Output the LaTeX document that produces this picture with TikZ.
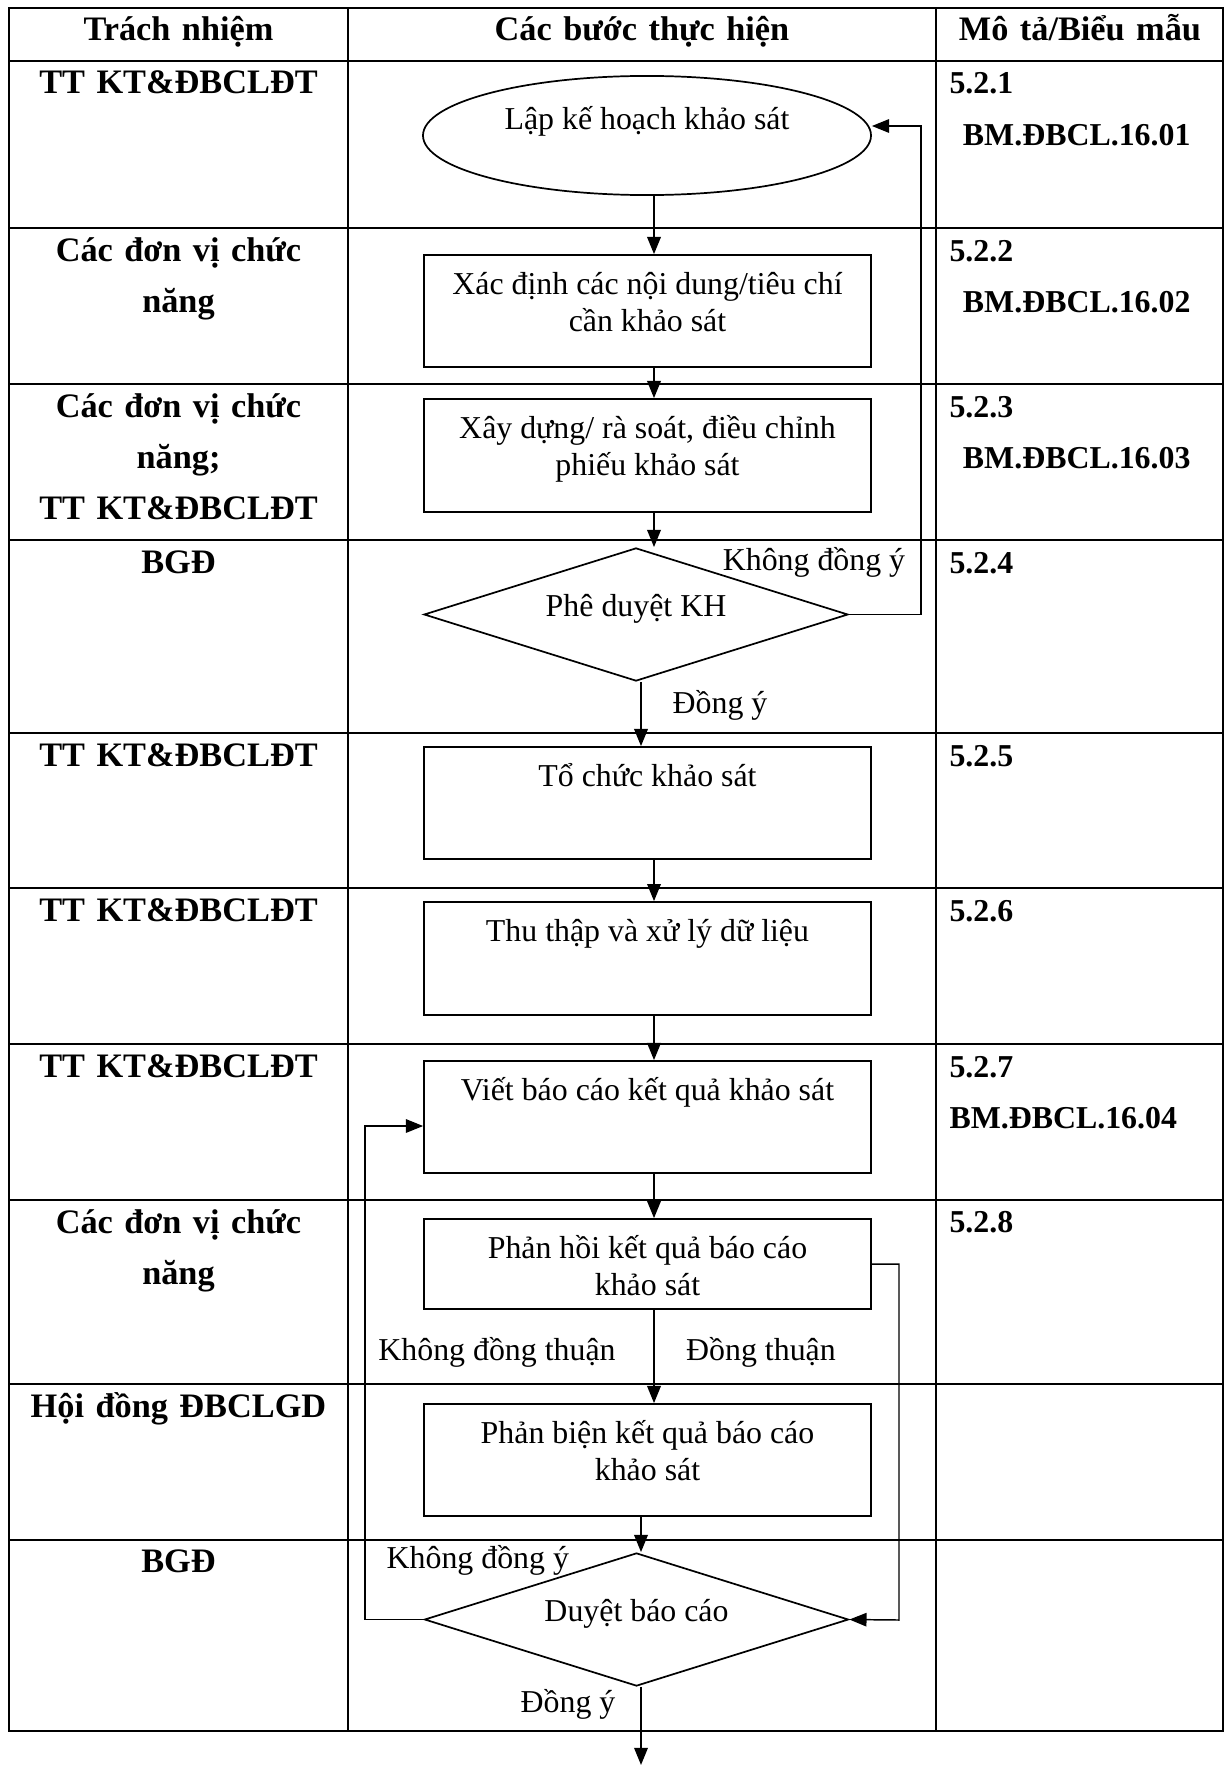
\documentclass[tikz,border=0pt]{standalone}
\usepackage{fontspec}
\setmainfont{Liberation Serif}
\usepackage{tikz}
\usetikzlibrary{positioning}
\usetikzlibrary{shapes.geometric}
\usetikzlibrary{arrows.meta}
\newcommand{\boxtxt}[2]{\parbox[c][#1][t]{182.4pt}{\centering\rule{0pt}{16.3pt}#2}}

\begin{document}
\begin{tikzpicture}[x=0.408pt, y=-0.408pt,
    tbl/.style={line width=1.1pt},
    stepbox/.style={draw, line width=0.7pt, inner sep=0pt, font=\fontsize{13}{15}\selectfont},
    planbox/.style={draw, ellipse, line width=0.7pt, inner sep=0pt, minimum width=182.8pt, minimum height=48.6pt, text height=10pt, text depth=14.5pt, font=\fontsize{13}{15}\selectfont},
    decbox/.style={draw, diamond, aspect=3.2, line width=0.7pt, inner sep=0pt, minimum width=173pt, minimum height=54.3pt, text height=9pt, text depth=7pt, font=\fontsize{13}{15}\selectfont},
    arr/.style={-{Triangle[length=7pt,width=5.5pt]}, line width=0.8pt},
    loopline/.style={-{Triangle[length=7pt,width=5.5pt]}, line width=0.6pt},
    who/.style={anchor=base, align=center, text width=134pt, inner xsep=0pt, font=\bfseries\fontsize{14}{21}\selectfont},
    form/.style={anchor=base west, align=left, text width=110pt, inner xsep=0pt, font=\bfseries\fontsize{13}{21}\selectfont},
    lbl/.style={anchor=base, font=\fontsize{13}{15}\selectfont}]
    \useasboundingbox (0,0) rectangle (1226,1767);

    % Table
    \draw[tbl] (9,8) rectangle (1223,1731);
    \draw[tbl] (348,8) -- (348,1731);
    \draw[tbl] (936,8) -- (936,1731);
    \draw[tbl] (9,61) -- (1223,61);
    \draw[tbl] (9,228) -- (1223,228);
    \draw[tbl] (9,384) -- (1223,384);
    \draw[tbl] (9,540) -- (1223,540);
    \draw[tbl] (9,733) -- (1223,733);
    \draw[tbl] (9,888) -- (1223,888);
    \draw[tbl] (9,1044) -- (1223,1044);
    \draw[tbl] (9,1200) -- (1223,1200);
    \draw[tbl] (9,1384) -- (1223,1384);
    \draw[tbl] (9,1540) -- (1223,1540);

    % Header
    \node[who] (h1) at (178.5,41) {Trách nhiệm};
    \node[who] (h2) at (642,41) {Các bước thực hiện};
    \node[who] (h3) at (1080,41) {Mô tả/Biểu mẫu};

    % Responsibility
    \node[who] (r1) at (178.5,94) {TT KT\&ĐBCLĐT};
    \node[who] (r2) at (178.5,261) {Các đơn vị chức\\năng};
    \node[who] (r3) at (178.5,417) {Các đơn vị chức\\năng;\\TT KT\&ĐBCLĐT};
    \node[who] (r4) at (178.5,573) {BGĐ};
    \node[who] (r5) at (178.5,766) {TT KT\&ĐBCLĐT};
    \node[who] (r6) at (178.5,921) {TT KT\&ĐBCLĐT};
    \node[who] (r7) at (178.5,1077) {TT KT\&ĐBCLĐT};
    \node[who] (r8) at (178.5,1233) {Các đơn vị chức\\năng};
    \node[who] (r9) at (178.5,1417) {Hội đồng ĐBCLGD};
    \node[who] (r10) at (178.5,1572) {BGĐ};

    % Forms
    \node[form] (d1) at (949,94) {5.2.1\\\hspace*{5.5pt}BM.ĐBCL.16.01};
    \node[form] (d2) at (949,261) {5.2.2\\\hspace*{5.5pt}BM.ĐBCL.16.02};
    \node[form] (d3) at (949,417) {5.2.3\\\hspace*{5.5pt}BM.ĐBCL.16.03};
    \node[form] (d4) at (949,573) {5.2.4};
    \node[form] (d5) at (949,766) {5.2.5};
    \node[form] (d6) at (949,921) {5.2.6};
    \node[form] (d7) at (949,1077) {5.2.7\\BM.ĐBCL.16.04};
    \node[form] (d8) at (949,1232) {5.2.8};

    % Steps
    \node[planbox] (plan) at (647,135.5) {Lập kế hoạch khảo sát};
    \node[stepbox] (box2) at (647.5,311) {\boxtxt{45.7pt}{Xác định các nội dung/tiêu chí\\cần khảo sát}};
    \node[stepbox] (box3) at (647.5,455.5) {\boxtxt{46.1pt}{Xây dựng/ rà soát, điều chỉnh\\phiếu khảo sát}};
    \node[decbox] (dec1) at (636,614.5) {Phê duyệt KH};
    \node[stepbox] (box5) at (647.5,803) {\boxtxt{45.7pt}{Tổ chức khảo sát}};
    \node[stepbox] (box6) at (647.5,958.5) {\boxtxt{46.1pt}{Thu thập và xử lý dữ liệu}};
    \node[stepbox] (box7) at (647.5,1117) {\boxtxt{45.7pt}{Viết báo cáo kết quả khảo sát}};
    \node[stepbox] (box8) at (647.5,1264) {\boxtxt{36.7pt}{Phản hồi kết quả báo cáo\\khảo sát}};
    \node[stepbox] (box9) at (647.5,1460) {\boxtxt{45.7pt}{Phản biện kết quả báo cáo\\khảo sát}};
    \node[decbox] (dec2) at (636.5,1619.5) {Duyệt báo cáo};

    % Helper points
    \coordinate (axis) at (654,0);
    \coordinate (axisd) at (641,0);
    \coordinate (ret1) at (921,126);
    \coordinate (ret2) at (899,1620);
    \coordinate (ret3) at (365,1126);
    \coordinate (fin) at (641,1765);

    % Arrows
    \draw[arr] (plan.south -| axis) -- (box2.north -| axis);
    \draw[arr] (box2.south -| axis) -- (box3.north -| axis);
    \draw[arr] (box3.south -| axis) -- (dec1.north -| axis);
    \draw[arr] (dec1.south -| axisd) -- (box5.north -| axisd);
    \draw[arr] (box5.south -| axis) -- (box6.north -| axis);
    \draw[arr] (box6.south -| axis) -- (box7.north -| axis);
    \draw[arr] (box7.south -| axis) -- (box8.north -| axis);
    \draw[arr] (box8.south -| axis) -- (box9.north -| axis);
    \draw[arr] (box9.south -| axisd) -- (dec2.north -| axisd);
    \draw[arr] (dec2.south -| axisd) -- (fin);

    % Return loops
    \draw[loopline] (dec1.east) -| (ret1) -- (ret1 -| plan.east);
    \draw[loopline] (box8.east) -| (ret2) -- (dec2.east);
    \draw[loopline] (dec2.west) -| (ret3) -- (ret3 -| box7.west);

    % Labels
    \node[lbl] (no1) at (814,570) {Không đồng ý};
    \node[lbl] (yes1) at (720,713) {Đồng ý};
    \node[lbl] (no2) at (497,1360) {Không đồng thuận};
    \node[lbl] (yes2) at (761,1360) {Đồng thuận};
    \node[lbl, anchor=base west] (no3) at (378,1568) {Không đồng ý};
    \node[lbl] (yes3) at (568,1712) {Đồng ý};
\end{tikzpicture}
\end{document}
